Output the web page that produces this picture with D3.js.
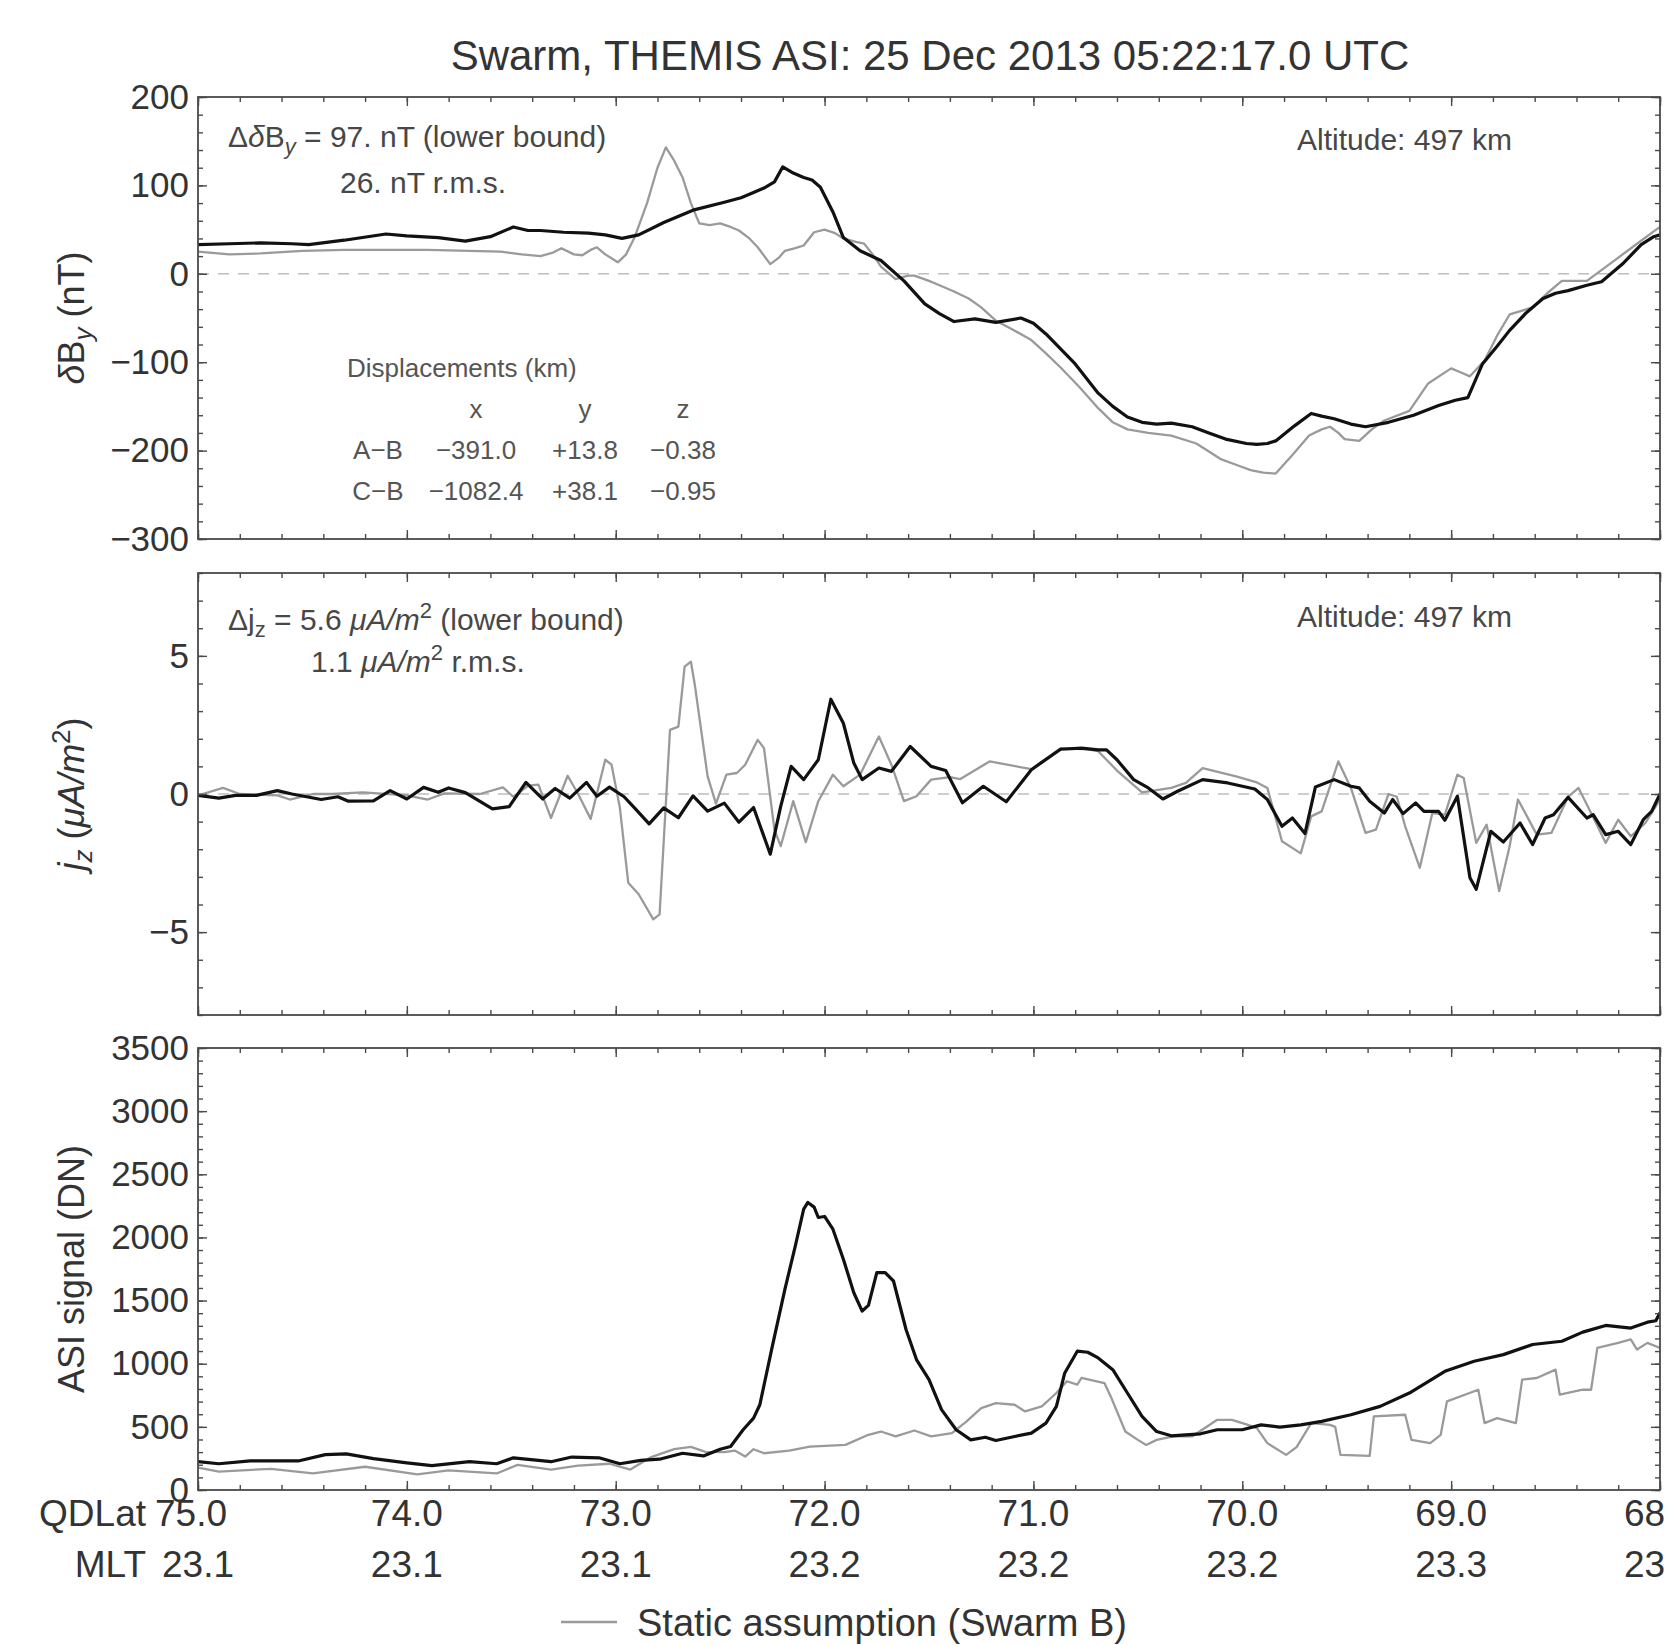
<!DOCTYPE html>
<html><head><meta charset="utf-8">
<script src="https://cdn.jsdelivr.net/npm/d3@7"></script>
<style>
body{margin:0;background:#fff}
svg{display:block}
text{font-family:"Liberation Sans",Arial,Helvetica,sans-serif}
</style>
</head><body>
<svg id="c" width="1666" height="1645"></svg>
<script>
// ---------------- DATA ----------------
const titleText = "Swarm, THEMIS ASI: 25 Dec 2013 05:22:17.0 UTC";
const latTicks = [75, 74, 73, 72, 71, 70, 69, 68];
const qdlatLabels = ["75.0", "74.0", "73.0", "72.0", "71.0", "70.0", "69.0", "68.0"];
const mltLabels = ["23.1", "23.1", "23.1", "23.2", "23.2", "23.2", "23.3", "23.3"];

const dByTicks = [-300, -200, -100, 0, 100, 200];
const jzTicks = [-5, 0, 5];
const asiTicks = [0, 500, 1000, 1500, 2000, 2500, 3000, 3500];

// [QDLat, value]
const dByBlack = [[75.0,33],[74.85,34],[74.7,35],[74.55,34],[74.47,33],[74.3,38],[74.1,45],[74.0,43],[73.85,41],[73.72,37],[73.6,42],[73.49,53],[73.42,49],[73.36,49],[73.25,47],[73.13,46],[73.05,44],[72.97,40],[72.89,44],[72.77,58],[72.63,72],[72.48,81],[72.4,86],[72.34,92],[72.29,97],[72.24,104],[72.2,121],[72.15,114],[72.1,109],[72.06,106],[72.02,98],[71.96,70],[71.91,41],[71.83,26],[71.73,15],[71.62,-8],[71.52,-34],[71.45,-45],[71.38,-54],[71.28,-51],[71.18,-55],[71.06,-50],[71.0,-56],[70.94,-68],[70.87,-85],[70.8,-102],[70.69,-135],[70.62,-150],[70.55,-162],[70.48,-168],[70.41,-170],[70.34,-169],[70.24,-173],[70.16,-180],[70.08,-187],[69.98,-192],[69.93,-193],[69.88,-192],[69.84,-189],[69.75,-172],[69.67,-158],[69.62,-161],[69.56,-164],[69.48,-170],[69.41,-173],[69.3,-168],[69.18,-160],[69.06,-149],[68.98,-143],[68.92,-140],[68.85,-102],[68.78,-82],[68.72,-64],[68.64,-44],[68.56,-28],[68.5,-22],[68.44,-19],[68.35,-13],[68.28,-9],[68.18,11],[68.09,33],[68.03,42],[68.0,44]];
const dByGray = [[75.0,25],[74.85,22],[74.7,23],[74.5,26],[74.3,27],[74.1,27],[73.9,27],[73.7,26],[73.55,25],[73.45,22],[73.36,20],[73.3,24],[73.26,29],[73.2,22],[73.16,21],[73.12,27],[73.09,30],[73.05,22],[72.99,13],[72.95,22],[72.91,41],[72.85,80],[72.8,120],[72.76,143],[72.72,128],[72.68,109],[72.64,80],[72.6,57],[72.55,55],[72.5,57],[72.45,53],[72.41,49],[72.36,40],[72.32,30],[72.26,11],[72.22,18],[72.19,26],[72.14,29],[72.1,32],[72.05,47],[72.0,50],[71.95,46],[71.91,40],[71.85,36],[71.81,34],[71.77,22],[71.73,8],[71.66,-6],[71.6,-2],[71.57,-2],[71.5,-8],[71.45,-13],[71.38,-20],[71.31,-28],[71.25,-38],[71.18,-53],[71.1,-63],[71.01,-75],[70.94,-90],[70.87,-106],[70.78,-128],[70.69,-152],[70.62,-168],[70.55,-176],[70.45,-180],[70.34,-183],[70.22,-192],[70.1,-210],[70.03,-216],[69.96,-222],[69.9,-225],[69.84,-226],[69.76,-205],[69.68,-183],[69.62,-176],[69.58,-173],[69.54,-180],[69.51,-187],[69.44,-189],[69.38,-176],[69.32,-166],[69.2,-155],[69.11,-124],[69.0,-107],[68.95,-112],[68.91,-116],[68.84,-98],[68.78,-70],[68.72,-46],[68.61,-38],[68.54,-22],[68.47,-8],[68.35,-8],[68.23,13],[68.11,34],[68.03,48],[68.0,53]];

const jzBlack = [[75.0,-0.05],[74.9,-0.15],[74.82,-0.05],[74.72,-0.05],[74.62,0.12],[74.55,0],[74.41,-0.2],[74.33,-0.1],[74.28,-0.26],[74.16,-0.25],[74.08,0.12],[74.0,-0.18],[73.92,0.24],[73.85,0.06],[73.8,0.22],[73.72,0.05],[73.59,-0.54],[73.51,-0.46],[73.43,0.42],[73.35,-0.18],[73.29,0.2],[73.22,-0.15],[73.14,0.42],[73.09,-0.08],[73.03,0.25],[72.96,-0.1],[72.91,-0.5],[72.84,-1.08],[72.77,-0.5],[72.7,-0.86],[72.63,-0.07],[72.56,-0.62],[72.48,-0.33],[72.41,-1.02],[72.34,-0.49],[72.26,-2.18],[72.21,-0.45],[72.16,1.0],[72.1,0.52],[72.03,1.24],[71.97,3.43],[71.91,2.56],[71.86,1.12],[71.82,0.52],[71.74,0.94],[71.68,0.82],[71.59,1.72],[71.49,1.0],[71.42,0.85],[71.34,-0.32],[71.24,0.28],[71.13,-0.28],[71.01,0.88],[70.87,1.62],[70.77,1.66],[70.69,1.6],[70.65,1.6],[70.6,1.24],[70.52,0.52],[70.45,0.22],[70.38,-0.18],[70.31,0.1],[70.19,0.52],[70.07,0.4],[69.94,0.18],[69.88,-0.2],[69.81,-1.17],[69.76,-0.87],[69.7,-1.43],[69.65,0.25],[69.56,0.52],[69.48,0.28],[69.44,0.22],[69.39,-0.26],[69.32,-0.69],[69.28,-0.2],[69.23,-0.71],[69.17,-0.32],[69.13,-0.63],[69.06,-0.63],[69.03,-0.95],[68.97,-0.08],[68.91,-3.03],[68.88,-3.45],[68.81,-1.35],[68.75,-1.74],[68.67,-1.05],[68.61,-1.83],[68.55,-0.87],[68.51,-0.75],[68.44,-0.12],[68.35,-0.87],[68.32,-0.75],[68.26,-1.47],[68.2,-1.35],[68.14,-1.83],[68.08,-0.93],[68.04,-0.63],[68.0,0]];
const jzGray = [[75.0,-0.05],[74.88,0.22],[74.8,0],[74.62,-0.05],[74.56,-0.2],[74.45,0],[74.36,0],[74.21,0.06],[74.0,-0.05],[73.9,-0.2],[73.82,0.02],[73.65,0],[73.54,0.24],[73.49,-0.1],[73.42,0.3],[73.37,0.34],[73.31,-0.87],[73.23,0.66],[73.18,0],[73.12,-0.9],[73.05,1.24],[73.02,1.06],[72.98,-0.5],[72.94,-3.21],[72.89,-3.63],[72.82,-4.54],[72.79,-4.36],[72.74,2.32],[72.7,2.44],[72.67,4.61],[72.64,4.79],[72.62,3.89],[72.56,0.64],[72.52,-0.35],[72.47,0.7],[72.42,0.76],[72.38,1.06],[72.32,1.96],[72.29,1.66],[72.24,-1.29],[72.21,-1.89],[72.15,-0.26],[72.09,-1.74],[72.03,-0.26],[71.96,0.7],[71.91,0.28],[71.83,0.7],[71.74,2.08],[71.68,1.06],[71.62,-0.26],[71.56,-0.08],[71.49,0.52],[71.4,0.61],[71.35,0.54],[71.21,1.18],[71.01,0.9],[70.87,1.66],[70.74,1.62],[70.69,1.55],[70.6,0.85],[70.48,0.06],[70.34,0.22],[70.27,0.4],[70.19,0.94],[70.03,0.64],[69.93,0.42],[69.88,0.22],[69.81,-1.71],[69.72,-2.15],[69.67,-0.81],[69.62,-0.63],[69.54,1.18],[69.48,0.22],[69.41,-1.41],[69.36,-1.29],[69.3,0],[69.26,-0.1],[69.22,-1.17],[69.15,-2.67],[69.09,-0.69],[69.03,-0.75],[68.97,0.7],[68.94,0.58],[68.88,-1.77],[68.83,-1.11],[68.77,-3.51],[68.72,-1.89],[68.68,-0.2],[68.59,-1.47],[68.52,-1.41],[68.44,-0.1],[68.39,0.22],[68.33,-0.69],[68.26,-1.77],[68.2,-0.93],[68.14,-1.53],[68.07,-1.05],[68.0,-0.2]];

const asiBlack = [[75.0,224],[74.9,208],[74.75,230],[74.52,230],[74.39,280],[74.29,286],[74.16,249],[74.0,215],[73.88,193],[73.7,224],[73.57,208],[73.49,255],[73.31,224],[73.21,261],[73.08,255],[72.98,208],[72.88,235],[72.79,244],[72.68,291],[72.58,270],[72.5,323],[72.45,344],[72.39,477],[72.34,569],[72.31,675],[72.25,1139],[72.19,1589],[72.14,1933],[72.1,2224],[72.08,2277],[72.05,2240],[72.03,2158],[72.0,2166],[71.96,2065],[71.91,1827],[71.86,1562],[71.82,1417],[71.79,1462],[71.75,1721],[71.71,1721],[71.67,1655],[71.61,1271],[71.56,1033],[71.5,874],[71.44,636],[71.37,477],[71.3,397],[71.23,418],[71.18,392],[71.09,424],[71.01,450],[70.94,530],[70.89,662],[70.85,927],[70.79,1099],[70.74,1091],[70.69,1046],[70.62,953],[70.55,768],[70.48,583],[70.41,463],[70.34,429],[70.2,445],[70.12,477],[70.0,477],[69.91,516],[69.82,498],[69.72,516],[69.62,543],[69.48,596],[69.34,662],[69.2,768],[69.03,940],[68.89,1019],[68.75,1072],[68.61,1152],[68.47,1178],[68.37,1250],[68.26,1303],[68.14,1282],[68.06,1329],[68.02,1340],[68.0,1403]];
const asiGray = [[75.0,177],[74.9,146],[74.65,168],[74.45,131],[74.2,184],[73.95,124],[73.8,156],[73.57,131],[73.47,199],[73.31,162],[73.18,193],[73.03,208],[72.93,162],[72.83,261],[72.72,324],[72.64,342],[72.57,302],[72.48,300],[72.43,312],[72.38,265],[72.34,323],[72.29,291],[72.17,312],[72.07,344],[71.9,357],[71.79,437],[71.73,463],[71.66,424],[71.57,471],[71.49,424],[71.39,450],[71.32,543],[71.25,649],[71.18,688],[71.09,675],[71.04,622],[70.96,662],[70.89,768],[70.84,861],[70.79,834],[70.77,887],[70.66,847],[70.63,741],[70.56,463],[70.5,397],[70.46,357],[70.41,397],[70.33,424],[70.24,424],[70.12,556],[70.05,556],[69.98,520],[69.93,490],[69.88,371],[69.79,278],[69.74,339],[69.67,530],[69.58,516],[69.555,500],[69.53,278],[69.39,270],[69.37,583],[69.22,596],[69.19,397],[69.1,371],[69.05,437],[69.02,702],[68.87,794],[68.84,530],[68.78,569],[68.69,530],[68.66,874],[68.59,887],[68.5,953],[68.48,755],[68.37,794],[68.33,794],[68.3,1125],[68.2,1165],[68.14,1192],[68.11,1112],[68.06,1165],[68.0,1125]];

const displacementHeader = ["x", "y", "z"];
const displacementRows = [["A\u2212B", "\u2212391.0", "+13.8", "\u22120.38"], ["C\u2212B", "\u22121082.4", "+38.1", "\u22120.95"]];
const legendLabel = "Static assumption (Swarm B)";

// ---------------- LAYOUT ----------------
const svg = d3.select("#c");
const W = 1666;
const left = 198, right = 1660;
const x = d3.scaleLinear().domain([75, 68]).range([left, right]);
const FRAME = "#4a4a4a", TXT = "#333", ANN = "#474747";
const BLACK = "#111", GRAY = "#9a9a9a";

const panels = [
  {id:"p1", top:97, bottom:539, domain:[-300,200], ticks:dByTicks, minor:d3.range(-300,201,20), black:dByBlack, gray:dByGray, zero:true},
  {id:"p2", top:573, bottom:1015, domain:[-8,8], ticks:jzTicks, minor:d3.range(-8,9,1), black:jzBlack, gray:jzGray, zero:true},
  {id:"p3", top:1048, bottom:1490, domain:[0,3500], ticks:asiTicks, minor:d3.range(0,3501,100), black:asiBlack, gray:asiGray, zero:false}
];
const xMinor = d3.range(0, 36).map(i => +(68 + i * 0.2).toFixed(1));
const fmt = d => d < 0 ? "\u2212" + Math.abs(d) : String(d);

// title
svg.append("text").attr("x", 930).attr("y", 70).attr("text-anchor", "middle")
  .attr("font-size", 42).attr("fill", TXT).text(titleText);

panels.forEach(p => {
  const y = d3.scaleLinear().domain(p.domain).range([p.bottom, p.top]);
  p.y = y;
  const g = svg.append("g");
  g.append("clipPath").attr("id", "clip-" + p.id).append("rect")
    .attr("x", left).attr("y", p.top).attr("width", right - left).attr("height", p.bottom - p.top);

  if (p.zero) {
    g.append("line").attr("x1", left).attr("x2", right).attr("y1", y(0)).attr("y2", y(0))
      .attr("stroke", "#bdbdbd").attr("stroke-width", 1.6).attr("stroke-dasharray", "11,9");
  }
  const line = d3.line().x(d => x(d[0])).y(d => y(d[1]));
  const lines = g.append("g").attr("clip-path", `url(#clip-${p.id})`);
  lines.append("path").datum(p.gray).attr("d", line).attr("fill", "none")
    .attr("stroke", GRAY).attr("stroke-width", 2.3).attr("stroke-linejoin", "round");
  lines.append("path").datum(p.black).attr("d", line).attr("fill", "none")
    .attr("stroke", BLACK).attr("stroke-width", 3.2).attr("stroke-linejoin", "round");

  // ticks (inside) on all sides
  const mk = (axis, tx, ty) => {
    const a = g.append("g").attr("transform", `translate(${tx},${ty})`).call(axis);
    a.select(".domain").remove();
    a.selectAll("line").attr("stroke", FRAME).attr("stroke-width", 1.4);
    return a;
  };
  const yl = mk(d3.axisLeft(y).tickValues(p.ticks).tickSizeInner(-9).tickSizeOuter(0).tickPadding(9).tickFormat(fmt), left, 0);
  yl.selectAll("text").attr("font-size", 35).attr("fill", TXT).attr("font-family", '"Liberation Sans",Arial,sans-serif');
  mk(d3.axisLeft(y).tickValues(p.minor).tickSizeInner(-5).tickSizeOuter(0).tickFormat(""), left, 0);
  mk(d3.axisRight(y).tickValues(p.ticks).tickSizeInner(-9).tickSizeOuter(0).tickFormat(""), right, 0);
  mk(d3.axisRight(y).tickValues(p.minor).tickSizeInner(-5).tickSizeOuter(0).tickFormat(""), right, 0);
  mk(d3.axisBottom(x).tickValues(latTicks).tickSizeInner(-9).tickSizeOuter(0).tickFormat(""), 0, p.bottom);
  mk(d3.axisBottom(x).tickValues(xMinor).tickSizeInner(-5).tickSizeOuter(0).tickFormat(""), 0, p.bottom);
  mk(d3.axisTop(x).tickValues(latTicks).tickSizeInner(-9).tickSizeOuter(0).tickFormat(""), 0, p.top);
  mk(d3.axisTop(x).tickValues(xMinor).tickSizeInner(-5).tickSizeOuter(0).tickFormat(""), 0, p.top);

  g.append("rect").attr("x", left).attr("y", p.top).attr("width", right - left).attr("height", p.bottom - p.top)
    .attr("fill", "none").attr("stroke", FRAME).attr("stroke-width", 1.8);
});

// y-axis titles
function yTitle(p, build) {
  const t = svg.append("text").attr("transform", `translate(84,${(p.top + p.bottom) / 2}) rotate(-90)`)
    .attr("text-anchor", "middle").attr("font-size", 36).attr("fill", TXT);
  build(t);
}
yTitle(panels[0], t => {
  t.append("tspan").attr("font-style", "italic").text("\u03b4");
  t.append("tspan").text("B");
  t.append("tspan").attr("font-style", "italic").attr("font-size", 26).attr("dy", 8).text("y");
  t.append("tspan").attr("dy", -8).text(" (nT)");
});
yTitle(panels[1], t => {
  t.append("tspan").attr("font-style", "italic").text("j");
  t.append("tspan").attr("font-style", "italic").attr("font-size", 26).attr("dy", 8).text("z");
  t.append("tspan").attr("dy", -8).text(" (");
  t.append("tspan").attr("font-style", "italic").text("\u03bcA/m");
  t.append("tspan").attr("font-size", 26).attr("dy", -14).text("2");
  t.append("tspan").attr("dy", 14).text(")");
});
yTitle(panels[2], t => { t.text("ASI signal (DN)"); });

// annotations panel 1
{
  const t = svg.append("text").attr("x", 228).attr("y", 147).attr("font-size", 30).attr("fill", ANN);
  t.append("tspan").text("\u0394");
  t.append("tspan").attr("font-style", "italic").text("\u03b4");
  t.append("tspan").text("B");
  t.append("tspan").attr("font-style", "italic").attr("font-size", 22).attr("dy", 7).text("y");
  t.append("tspan").attr("dy", -7).text(" = 97. nT (lower bound)");
  svg.append("text").attr("x", 340).attr("y", 193).attr("font-size", 30).attr("fill", ANN).text("26. nT r.m.s.");
  svg.append("text").attr("x", 1297).attr("y", 150).attr("font-size", 30).attr("fill", ANN).text("Altitude: 497 km");

  svg.append("text").attr("x", 347).attr("y", 377).attr("font-size", 26).attr("fill", "#555").text("Displacements (km)");
  const colX = [378, 476, 585, 683];
  displacementHeader.forEach((h, i) => {
    svg.append("text").attr("x", colX[i + 1]).attr("y", 418).attr("text-anchor", "middle")
      .attr("font-size", 26).attr("fill", "#555").text(h);
  });
  displacementRows.forEach((r, ri) => {
    r.forEach((c, ci) => {
      svg.append("text").attr("x", colX[ci]).attr("y", 459 + ri * 41).attr("text-anchor", "middle")
        .attr("font-size", 26).attr("fill", "#555").text(c);
    });
  });
}
// annotations panel 2
{
  const t = svg.append("text").attr("x", 228).attr("y", 630).attr("font-size", 30).attr("fill", ANN);
  t.append("tspan").text("\u0394j");
  t.append("tspan").attr("font-size", 22).attr("dy", 7).text("z");
  t.append("tspan").attr("dy", -7).text(" = 5.6 ");
  t.append("tspan").attr("font-style", "italic").text("\u03bcA/m");
  t.append("tspan").attr("font-size", 22).attr("dy", -12).text("2");
  t.append("tspan").attr("dy", 12).text(" (lower bound)");
  const t2 = svg.append("text").attr("x", 311).attr("y", 672).attr("font-size", 30).attr("fill", ANN);
  t2.append("tspan").text("1.1 ");
  t2.append("tspan").attr("font-style", "italic").text("\u03bcA/m");
  t2.append("tspan").attr("font-size", 22).attr("dy", -12).text("2");
  t2.append("tspan").attr("dy", 12).text(" r.m.s.");
  svg.append("text").attr("x", 1297).attr("y", 627).attr("font-size", 30).attr("fill", ANN).text("Altitude: 497 km");
}

// x-axis labels (QDLat / MLT)
const xl = svg.append("g").attr("font-size", 37).attr("fill", TXT);
xl.append("text").attr("x", 146).attr("y", 1526).attr("text-anchor", "end").text("QDLat");
xl.append("text").attr("x", 146).attr("y", 1577).attr("text-anchor", "end").text("MLT");
latTicks.forEach((v, i) => {
  const cx = i === 0 ? x(v) - 3 : x(v);
  xl.append("text").attr("x", cx).attr("y", 1526).attr("text-anchor", i === 0 ? "start" : "middle")
    .attr("dx", i === 0 ? -40 : 0).text(qdlatLabels[i]);
  xl.append("text").attr("x", cx).attr("y", 1577).attr("text-anchor", i === 0 ? "start" : "middle")
    .attr("dx", i === 0 ? -33 : 0).text(mltLabels[i]);
});

// legend
svg.append("line").attr("x1", 561).attr("x2", 617).attr("y1", 1622).attr("y2", 1622)
  .attr("stroke", GRAY).attr("stroke-width", 2.5);
svg.append("text").attr("x", 637).attr("y", 1636).attr("font-size", 38).attr("fill", TXT).text(legendLabel);
</script>
</body></html>
